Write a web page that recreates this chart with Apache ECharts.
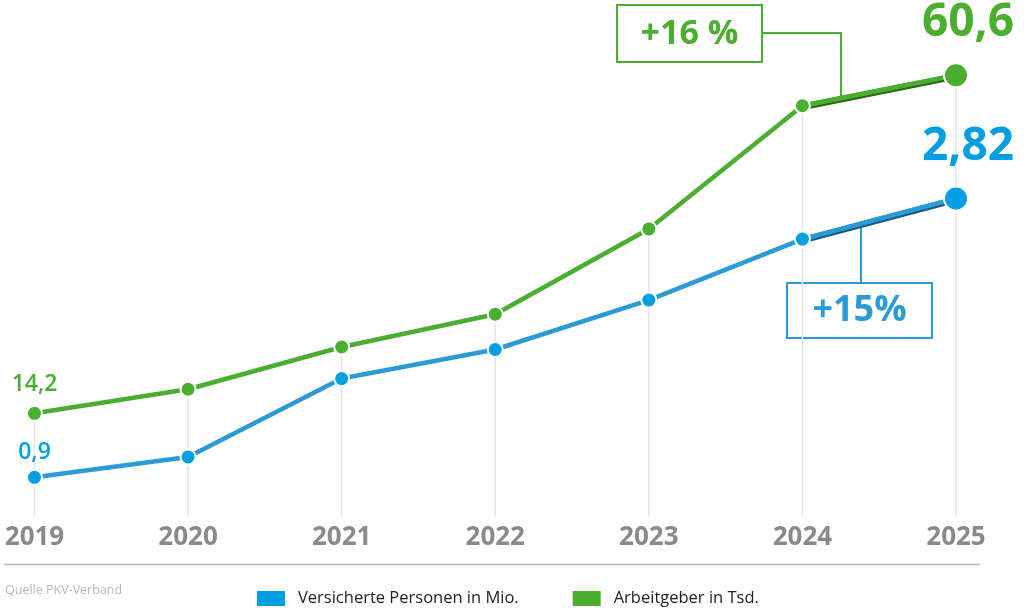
<!DOCTYPE html>
<html><head><meta charset="utf-8">
<script src="https://cdn.jsdelivr.net/npm/echarts/dist/echarts.min.js"></script>
<style>html,body{margin:0;padding:0;background:#fff}#c{width:1024px;height:611px}</style>
</head><body><div id="c"></div>
<script>
const years = ['2019', '2020', '2021', '2022', '2023', '2024', '2025'];
const versicherte = [0.9, 1.04, 1.58, 1.78, 2.12, 2.54, 2.82];
const arbeitgeber = [14.2, 17.5, 23.3, 27.8, 39.5, 56.4, 60.6];
const seriesNames = ['Versicherte Personen in Mio.', 'Arbeitgeber in Tsd.'];
const changeLabels = ['+15%', '+16 %'];
const sourceText = 'Quelle PKV-Verband';

const GREEN = '#4aae2e', BLUE_LINE = '#2b9bd8', BLUE_DOT = '#009ee3';
const FONT = '"Open Sans", "Noto Sans", sans-serif';
const fmt = v => String(v).replace('.', ',');
const last = years.length - 1;

function items(arr, color, smallDist) {
  return arr.map((v, i) => {
    const it = { value: v };
    if (i === 0) {
      it.label = { show: true, position: 'top', distance: smallDist, fontSize: 23, fontWeight: 600, color: color, fontFamily: FONT, formatter: fmt(v) };
    }
    if (i === last) {
      it.symbolSize = 24;
      it.label = { show: true, position: 'top', distance: 16, offset: [12, 0], fontSize: 46, fontWeight: 'bold', color: color, fontFamily: FONT, formatter: fmt(v) };
    }
    return it;
  });
}
const lastSeg = arr => arr.map((v, i) => (i >= last - 1 ? v : null));

const chart = echarts.init(document.getElementById('c'), null, { renderer: 'canvas' });
const option = {
  animation: false,
  backgroundColor: '#fff',
  grid: { left: 34.5, right: 68, top: 6, bottom: 94.2, containLabel: false },
  legend: {
    data: seriesNames, left: 255, top: 589, padding: 0, icon: 'rect', itemWidth: 30, itemHeight: 17, itemGap: 52,
    textStyle: { fontSize: 16.5, color: '#222', fontFamily: FONT, padding: [0, 0, 0, 7] }
  },
  xAxis: {
    type: 'category', data: years, boundaryGap: false,
    axisLine: { show: false }, axisTick: { show: false }, splitLine: { show: false },
    axisLabel: { margin: 8, fontSize: 26, fontWeight: 'bold', color: '#8a8a8a', fontFamily: FONT }
  },
  yAxis: [
    { type: 'value', min: 0, max: 70.09, show: false, splitLine: { show: false } },
    { type: 'value', min: 0.628, max: 4.145, show: false, splitLine: { show: false } }
  ],
  series: [
    { name: 'drop', type: 'bar', yAxisIndex: 0, data: arbeitgeber, barWidth: 1.5, silent: true,
      itemStyle: { color: '#e4e4e4' }, z: 1 },
    { name: seriesNames[1], type: 'line', yAxisIndex: 0, data: items(arbeitgeber, GREEN, 9),
      symbol: 'circle', symbolSize: 15, lineStyle: { color: GREEN, width: 4.5 },
      itemStyle: { color: GREEN, borderColor: '#fff', borderWidth: 2 }, z: 4 },
    { name: seriesNames[0], type: 'line', yAxisIndex: 1, data: items(versicherte, BLUE_DOT, 5),
      symbol: 'circle', symbolSize: 15, lineStyle: { color: BLUE_LINE, width: 4.5 },
      itemStyle: { color: BLUE_DOT, borderColor: '#fff', borderWidth: 2 }, z: 4 },
    { name: 'g-shadow', type: 'line', yAxisIndex: 0, data: lastSeg(arbeitgeber), showSymbol: false, symbol: 'none',
      lineStyle: { color: GREEN, width: 4.5, shadowColor: '#2c6a1a', shadowBlur: 0, shadowOffsetY: 2.2 }, z: 3, silent: true },
    { name: 'b-shadow', type: 'line', yAxisIndex: 1, data: lastSeg(versicherte), showSymbol: false, symbol: 'none',
      lineStyle: { color: BLUE_LINE, width: 4.5, shadowColor: '#1a5a82', shadowBlur: 0, shadowOffsetY: 2.2 }, z: 3, silent: true }
  ]
};
chart.setOption(option);

function lineYAt(si, arr, x) {
  const a = chart.convertToPixel({ seriesIndex: si }, [last - 1, arr[last - 1]]);
  const b = chart.convertToPixel({ seriesIndex: si }, [last, arr[last]]);
  const t = (x - a[0]) / (b[0] - a[0]);
  return a[1] + t * (b[1] - a[1]);
}
const gx = 841, bx = 861;
const gy = lineYAt(1, arbeitgeber, gx);
const by = lineYAt(2, versicherte, bx);

chart.setOption({
  graphic: [
    { type: 'line', shape: { x1: 4, y1: 564.5, x2: 980, y2: 564.5 }, style: { stroke: '#b3b3b3', lineWidth: 1.5 }, silent: true },
    { type: 'text', x: 5, y: 590, style: { text: sourceText, fill: '#b8b8b8', font: '12.5px ' + FONT, align: 'left', verticalAlign: 'middle', textAlign: 'left', textVerticalAlign: 'middle' } },
    { type: 'rect', shape: { x: 617, y: 5, width: 145, height: 57 }, style: { fill: 'none', stroke: GREEN, lineWidth: 2 } },
    { type: 'text', x: 689.5, y: 34, style: { text: changeLabels[1], fill: GREEN, font: 'bold 34px ' + FONT, align: 'center', verticalAlign: 'middle', textAlign: 'center', textVerticalAlign: 'middle' } },
    { type: 'polyline', shape: { points: [[762, 33], [gx, 33], [gx, gy]] }, style: { fill: 'none', stroke: GREEN, lineWidth: 2 } },
    { type: 'rect', shape: { x: 787, y: 283, width: 145, height: 55 }, style: { fill: 'none', stroke: BLUE_LINE, lineWidth: 2 } },
    { type: 'text', x: 859.5, y: 311, style: { text: changeLabels[0], fill: BLUE_LINE, font: 'bold 36px ' + FONT, align: 'center', verticalAlign: 'middle', textAlign: 'center', textVerticalAlign: 'middle' } },
    { type: 'line', shape: { x1: bx, y1: 283, x2: bx, y2: by }, style: { stroke: BLUE_LINE, lineWidth: 2 } }
  ]
});
</script>
</body></html>
